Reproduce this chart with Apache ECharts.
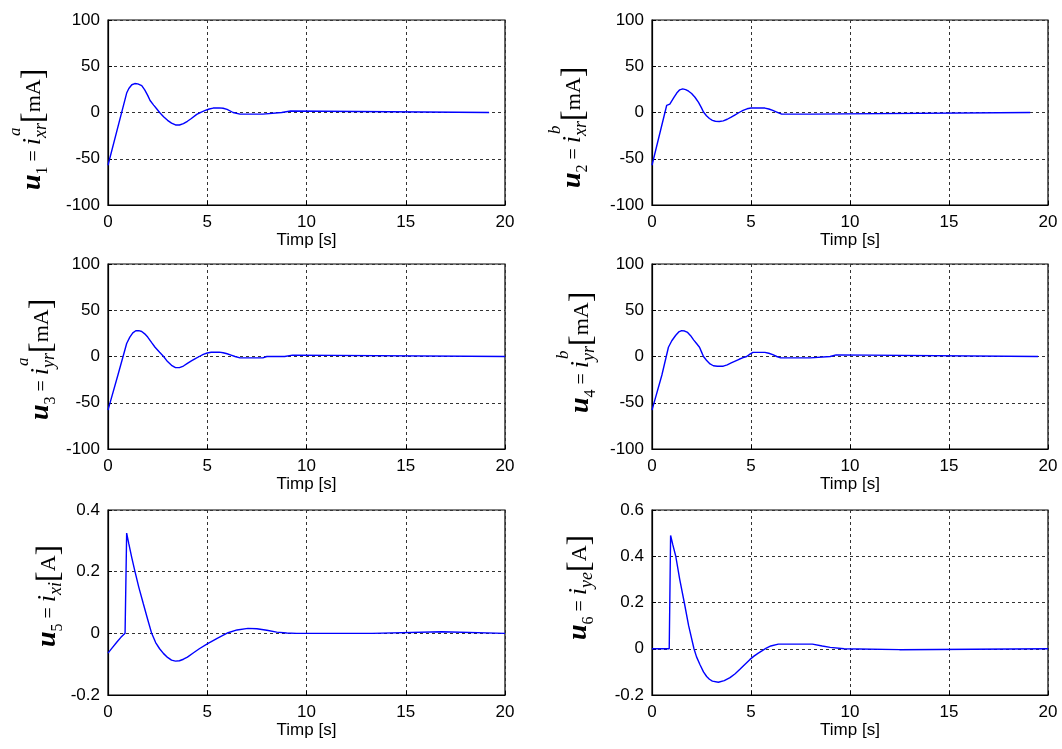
<!DOCTYPE html>
<html>
<head>
<meta charset="utf-8">
<title>u1..u6</title>
<script src="https://cdn.jsdelivr.net/npm/echarts@6/dist/echarts.min.js"></script>
<style>
html, body { margin: 0; padding: 0; background: #fff; }
#main { width: 1062px; height: 749px; }
</style>
</head>
<body>
<div id="main"></div>
<script>
// time / value pairs
var t1 = [0, 0.94, 1.05, 1.2, 1.35, 1.5, 1.6, 1.7, 1.85, 2.0, 2.12, 2.3, 2.45, 2.6, 2.8, 3.0, 3.2, 3.4, 3.6, 3.8, 4.0, 4.2, 4.47, 4.7, 4.9, 5.1, 5.3, 5.6, 5.8, 6.0, 6.3, 6.65, 7.8, 7.9, 8.75, 8.85, 9.2, 9.3, 19.2];
var u1 = [-57, 21, 26, 30, 31.3, 31, 30.3, 29, 24.5, 18.5, 13, 8, 4, 0, -4.5, -8.5, -11.5, -13.5, -13.5, -12, -9.5, -6.5, -2, 0.5, 2.2, 3.8, 4.8, 5, 4.6, 3.3, 0, -1.8, -1.8, 0, 0, 1.6, 1.6, 0, 0];

var t2 = [0, 0.74, 0.9, 0.96, 1.1, 1.25, 1.4, 1.55, 1.7, 1.85, 2.0, 2.17, 2.35, 2.5, 2.6, 2.75, 2.9, 3.05, 3.2, 3.4, 3.6, 3.8, 4.0, 4.2, 4.4, 4.6, 4.8, 5.0, 5.7, 5.9, 6.1, 6.3, 6.55, 8.05, 8.1, 19.1];
var u2 = [-57, 7.6, 9, 11, 16, 21, 24.5, 25.5, 24.8, 23, 20.5, 16.5, 11, 5, 0.5, -3.5, -6.5, -8.5, -9.5, -9.7, -9, -7.3, -5, -2.5, 0, 2.3, 4, 4.8, 4.8, 3.8, 2.2, 0.5, -1.8, -1.8, 0, 0];

var t3 = [0, 0.5, 0.94, 1.1, 1.25, 1.4, 1.55, 1.7, 1.85, 2.0, 2.2, 2.37, 2.6, 2.8, 3.0, 3.2, 3.4, 3.6, 3.8, 4.0, 4.2, 4.4, 4.6, 4.8, 5.0, 5.2, 5.6, 5.8, 6.0, 6.2, 6.4, 6.65, 7.8, 8.0, 8.9, 9.0, 9.3, 9.4, 20];
var u3 = [-58, -20, 14, 21, 25.5, 27.8, 28, 27, 24.5, 21, 15, 10, 4.5, 0, -5.5, -9.5, -12, -12, -10.3, -7.5, -4.8, -2.3, 0, 2.2, 3.8, 4.6, 4.7, 4, 3, 1.5, 0, -1.5, -1.5, 0, 0, 1.5, 1.5, 0, 0];

var t4 = [0, 0.5, 0.83, 1.0, 1.2, 1.35, 1.5, 1.65, 1.8, 1.95, 2.1, 2.25, 2.4, 2.5, 2.6, 2.75, 2.93, 3.1, 3.3, 3.6, 3.8, 4.0, 4.2, 4.4, 4.6, 4.78, 4.95, 5.1, 5.7, 5.9, 6.1, 6.3, 6.5, 8.0, 8.1, 9.0, 9.1, 9.3, 9.4, 19.5];
var u4 = [-58, -20, 10, 17, 23, 26.5, 28, 27.5, 26, 22.5, 18, 14, 10, 5, 0, -4, -8, -10, -10.5, -10.5, -9, -7, -5, -3, -1.3, 0, 2.5, 4.5, 4.5, 3.5, 2, 0, -1.5, -1.5, 0, 0, 1.8, 1.8, 0, 0];

var t5 = [0, 0.2, 0.45, 0.65, 0.86, 0.94, 1.05, 1.2, 1.36, 1.55, 1.78, 2.0, 2.2, 2.4, 2.6, 2.79, 3.0, 3.2, 3.4, 3.6, 3.8, 4.0, 4.31, 4.6, 5.0, 5.5, 6.05, 6.5, 7.05, 7.5, 8.0, 8.5, 9.0, 9.5, 13.3, 13.4, 16.8, 16.9, 20];
var u5 = [-0.064, -0.048, -0.028, -0.013, 0, 0.325, 0.29, 0.245, 0.2, 0.15, 0.096, 0.045, 0, -0.03, -0.05, -0.065, -0.078, -0.087, -0.09, -0.089, -0.084, -0.077, -0.063, -0.05, -0.034, -0.016, 0.002, 0.011, 0.016, 0.015, 0.01, 0.004, 0.001, 0, 0, 0.005, 0.005, 0, 0];

var t6 = [0, 0.87, 0.94, 1.05, 1.2, 1.4, 1.63, 1.85, 2.12, 2.25, 2.42, 2.6, 2.76, 2.9, 3.05, 3.35, 3.65, 3.94, 4.2, 4.44, 4.7, 4.95, 5.15, 5.35, 5.55, 5.75, 6.0, 6.38, 8.1, 8.6, 9.0, 9.7, 9.8, 12.5, 12.6, 20];
var u6 = [0, 0, 0.49, 0.45, 0.4, 0.3, 0.2, 0.1, 0, -0.035, -0.068, -0.1, -0.12, -0.132, -0.14, -0.145, -0.138, -0.125, -0.108, -0.089, -0.067, -0.046, -0.032, -0.02, -0.009, 0.002, 0.012, 0.02, 0.02, 0.012, 0.006, 0, -0.004, -0.004, 0, 0];

var xTicks = [0, 5, 10, 15, 20];
var yRangesMA = [-100, 100, 50];
var yRange5 = [-0.2, 0.4, 0.2];
var yRange6 = [-0.2, 0.6, 0.2];

var xName = "Timp [s]";

// pieces of the rotated y labels
var lab1 = [["u", "b"], ["1", "sub"], [" = ", "eq"], ["i", "i"], ["a", "sup"], ["xr", "sub2"], ["[", "br"], ["mA", "unit"], ["]", "br"]];
var lab2 = [["u", "b"], ["2", "sub"], [" = ", "eq"], ["i", "i"], ["b", "sup"], ["xr", "sub2"], ["[", "br"], ["mA", "unit"], ["]", "br"]];
var lab3 = [["u", "b"], ["3", "sub"], [" = ", "eq"], ["i", "i"], ["a", "sup"], ["yr", "sub2"], ["[", "br"], ["mA", "unit"], ["]", "br"]];
var lab4 = [["u", "b"], ["4", "sub"], [" = ", "eq"], ["i", "i"], ["b", "sup"], ["yr", "sub2"], ["[", "br"], ["mA", "unit"], ["]", "br"]];
var lab5 = [["u", "b"], ["5", "sub"], [" = ", "eq"], ["i", "i"], ["xi", "sub2"], ["[", "br"], ["A", "unit"], ["]", "br"]];
var lab6 = [["u", "b"], ["6", "sub"], [" = ", "eq"], ["i", "i"], ["ye", "sub2"], ["[", "br"], ["A", "unit"], ["]", "br"]];

var FONT = '"Liberation Sans", Arial, sans-serif';
var SERIF = '"Liberation Serif", "Times New Roman", serif';

var partStyle = {
  b: { f: "bold italic", size: 28, dy: 0 },
  sub: { f: "", size: 16, dy: 6 },
  eq: { f: "", size: 20, dy: 0 },
  i: { f: "italic", size: 26, dy: 0 },
  sup: { f: "italic", size: 17, dy: -21, keep: true, dx: 2 },
  sub2: { f: "italic", size: 18, dy: 5 },
  br: { f: "", size: 32, dy: 3 },
  unit: { f: "", size: 22, dy: 0 }
};

var ctx = document.createElement("canvas").getContext("2d");

function makeLabel(parts, x, y) {
  var pos = 0;
  var children = parts.map(function (p) {
    var st = partStyle[p[1]];
    var font = st.f + " " + st.size + "px " + SERIF;
    ctx.font = font;
    var w = ctx.measureText(p[0]).width;
    var el = {
      type: "text",
      x: pos + (st.dx || 0),
      y: st.dy - 0.34 * st.size,
      style: {
        text: p[0],
        font: font,
        fill: "#000",
        textAlign: "left",
        textVerticalAlign: "middle"
      }
    };
    if (!st.keep) pos += w;
    return el;
  });
  return { type: "group", x: x, y: y, rotation: Math.PI / 2, children: children };
}

function zip(t, v) {
  return t.map(function (x, i) { return [x, v[i]]; });
}

var grids = [
  { left: 108, top: 20, width: 397, height: 185 },
  { left: 652, top: 20, width: 396, height: 185 },
  { left: 108, top: 264, width: 397, height: 185 },
  { left: 652, top: 264, width: 396, height: 185 },
  { left: 108, top: 510, width: 397, height: 185 },
  { left: 652, top: 510, width: 396, height: 185 }
];
var yRanges = [yRangesMA, yRangesMA, yRangesMA, yRangesMA, yRange5, yRange6];
var seriesData = [zip(t1, u1), zip(t2, u2), zip(t3, u3), zip(t4, u4), zip(t5, u5), zip(t6, u6)];

var dashed = { type: [3, 3], color: "#333", width: 1 };

var myChart = echarts.init(document.getElementById("main"));
myChart.setOption({
  animation: false,
  backgroundColor: "#fff",
  grid: grids.map(function (g) {
    return Object.assign({ show: true, borderColor: "#000", borderWidth: 1.2, containLabel: false }, g);
  }),
  xAxis: grids.map(function (g, i) {
    return {
      gridIndex: i,
      type: "value",
      min: xTicks[0],
      max: xTicks[xTicks.length - 1],
      interval: xTicks[1] - xTicks[0],
      name: xName,
      nameLocation: "middle",
      nameGap: 26,
      nameTextStyle: { fontSize: 17, color: "#000", fontFamily: FONT },
      axisLine: { show: true, onZero: false, lineStyle: { color: "#000", width: 1.2 } },
      axisTick: { show: true, inside: true, length: 4, lineStyle: { color: "#000" } },
      axisLabel: { fontSize: 17, color: "#000", fontFamily: FONT, margin: 9 },
      splitLine: { show: true, lineStyle: dashed }
    };
  }),
  yAxis: grids.map(function (g, i) {
    var r = yRanges[i];
    return {
      gridIndex: i,
      type: "value",
      min: r[0],
      max: r[1],
      interval: r[2],
      axisLine: { show: true, onZero: false, lineStyle: { color: "#000", width: 1.2 } },
      axisTick: { show: true, inside: true, length: 4, lineStyle: { color: "#000" } },
      axisLabel: { fontSize: 17, color: "#000", fontFamily: FONT, margin: 8 },
      splitLine: { show: true, lineStyle: dashed }
    };
  }),
  series: seriesData.map(function (d, i) {
    return {
      type: "line",
      xAxisIndex: i,
      yAxisIndex: i,
      data: d,
      symbol: "none",
      smooth: false,
      lineStyle: { color: "#0000ff", width: 1.4 },
      z: 5
    };
  }),
  graphic: [
    makeLabel(lab1, 42, 190),
    makeLabel(lab2, 582, 188),
    makeLabel(lab3, 50, 420),
    makeLabel(lab4, 590, 413),
    makeLabel(lab5, 57, 647),
    makeLabel(lab6, 588, 640)
  ]
});
</script>
</body>
</html>
